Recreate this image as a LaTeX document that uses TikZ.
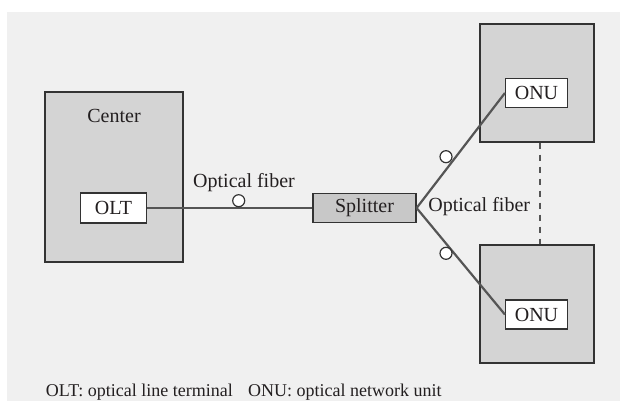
\documentclass[tikz,border=0pt]{standalone}
\usepackage{fontspec}
\setmainfont{Liberation Serif}
\usepackage{xcolor}
\usetikzlibrary{positioning}
\definecolor{paper}{HTML}{F0F0F0}
\definecolor{boxgray}{HTML}{D4D4D4}
\definecolor{splitgray}{HTML}{C8C8C8}
\definecolor{edge}{HTML}{333333}
\definecolor{wire}{HTML}{555555}
\definecolor{ink}{HTML}{231F20}

\begin{document}
\begin{tikzpicture}[
    x=0.5pt, y=-0.5pt,
    every node/.style={font=\fontsize{10}{12}\selectfont, text=ink, inner sep=0pt},
    site/.style={rectangle, draw=edge, fill=boxgray, line width=0.6pt},
    unit/.style={rectangle, draw=edge, fill=white, line width=0.6pt, minimum width=31pt, minimum height=14.5pt},
    fiber/.style={draw=wire, line width=1.1pt},
    ring/.style={circle, draw=edge, fill=white, line width=0.6pt, minimum size=6pt},
]
    \useasboundingbox (0,0) rectangle (620,401);
    \fill[paper] (7,12) rectangle (620,401);

    % Center
    \node[site, minimum width=69pt, minimum height=85pt] (center) at (114,177) {};
    \node (centerlbl) at (114,116) {Center};
    \node[unit, minimum width=33pt, minimum height=15pt] (olt) at (113.5,208) {OLT};

    % Splitter
    \node[site, fill=splitgray, minimum width=51.5pt, minimum height=14.5pt] (splitter) at (364.5,208) {Splitter};

    % ONUs
    \node[site, minimum width=57pt, minimum height=59pt] (siteA) at (537,83) {};
    \node[unit] (onuA) at (536.5,93) {ONU};
    \node[site, minimum width=57pt, minimum height=59pt] (siteB) at (537,304) {};
    \node[unit] (onuB) at (536.5,314.5) {ONU};
    \draw[wire, line width=1pt, dashed] (siteA.south -| 540,0) -- (siteB.north -| 540,0);

    % Fibers
    \draw[fiber] (olt) -- (splitter);
    \draw[fiber] (splitter.east) -- (onuA.west);
    \draw[fiber] (splitter.east) -- (onuB.west);
    \node[ring] (ringC) at (238.7,200.7) {};
    \node[ring] (ringA) at (446,156.7) {};
    \node[ring] (ringB) at (446,253.3) {};
    \node (fiberC) at (244,182.5) {Optical fiber};
    \node[anchor=west] (fiberA) at (428,206.5) {Optical fiber};

    % Legend
    \node[anchor=base west, font=\fontsize{9}{11}\selectfont] (legend) at (45.5,396.7) {OLT: optical line terminal\hspace{0.6em} ONU: optical network unit};
\end{tikzpicture}
\end{document}
